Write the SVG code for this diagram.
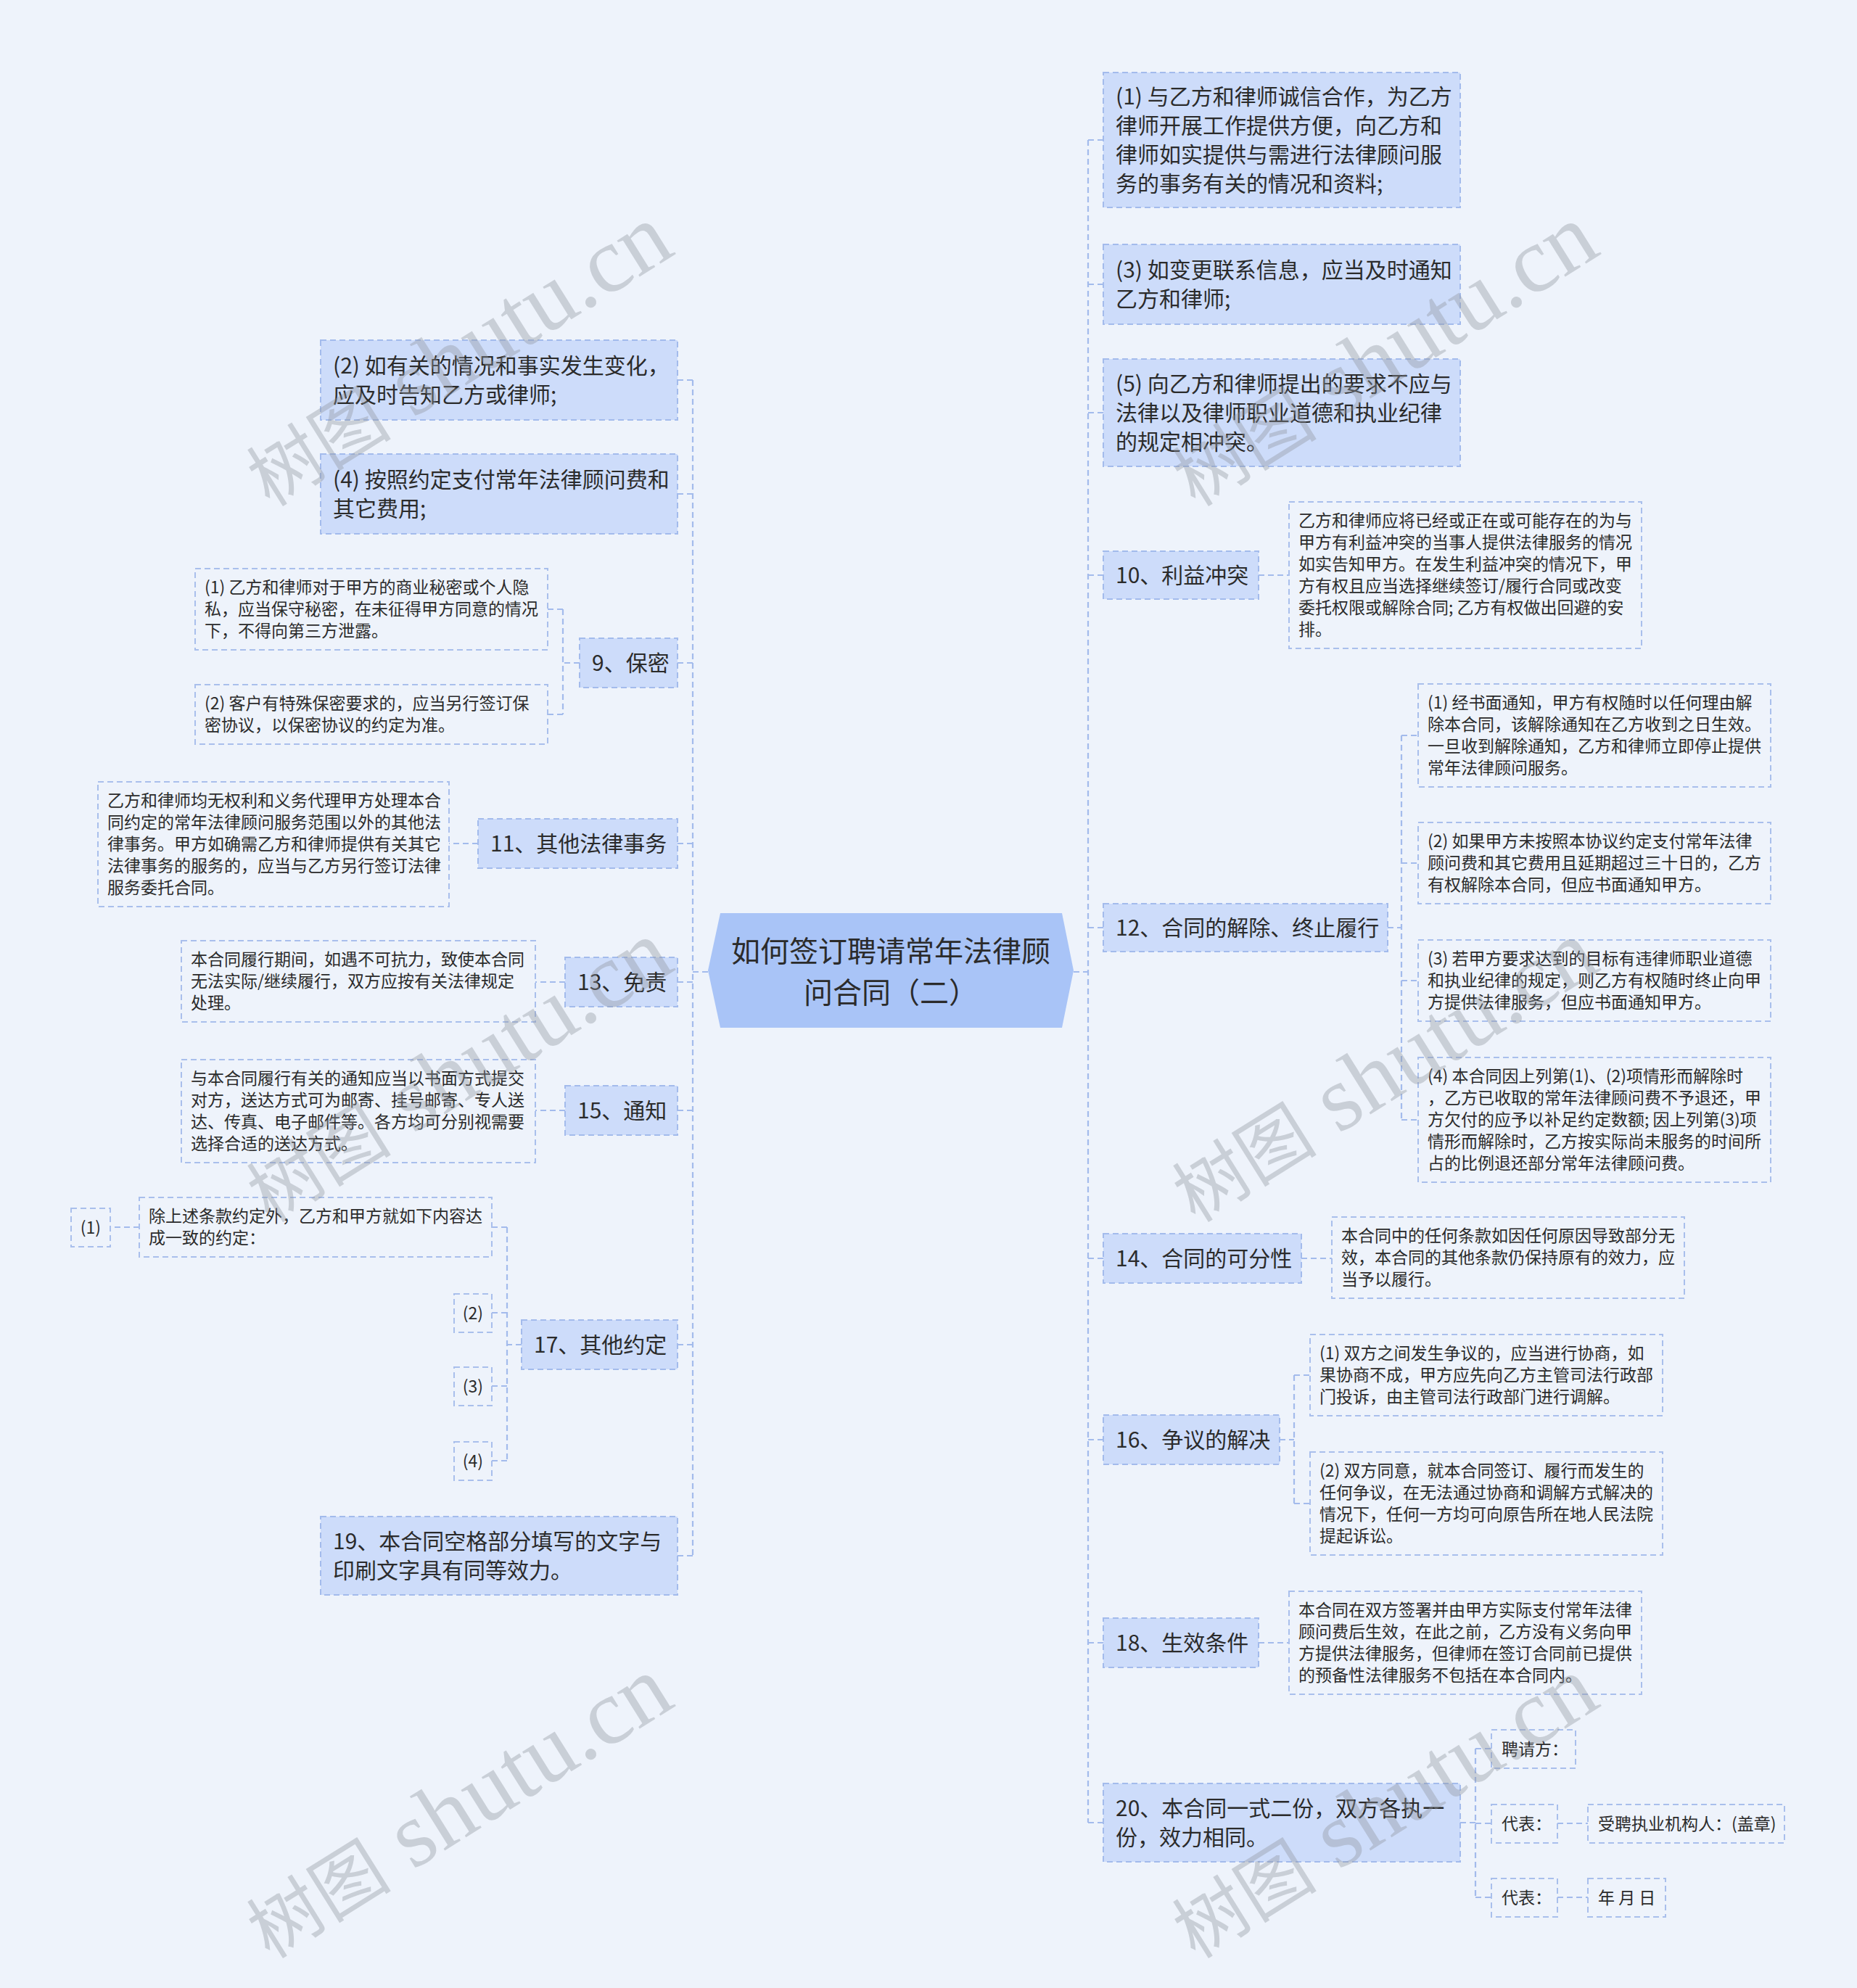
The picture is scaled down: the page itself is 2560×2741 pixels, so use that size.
<svg xmlns="http://www.w3.org/2000/svg" width="2560" height="2741" viewBox="0 0 2560 2741">
<style>
.bg{fill:#eef3fb}
.root{fill:#a9c4f7}
.mn{fill:#cddcfa;stroke:#a3bbec;stroke-width:2;stroke-dasharray:8 5}
.dt{fill:none;stroke:#a9bfec;stroke-width:2;stroke-dasharray:8 5}
.cn{fill:none;stroke:#a3bbec;stroke-width:2.2;stroke-dasharray:8 5}
text{font-family:"Noto Sans CJK SC","Noto Sans",sans-serif;fill:#2b2b2b}
.t40{font-size:40px}
.t30{font-size:30px}
.t23{font-size:23px}
.wm{font-family:"Liberation Serif","Noto Sans CJK SC",serif;fill:#8f959e;opacity:0.38}
</style>
<rect class="bg" x="0" y="0" width="2560" height="2741"/>

<g id="connectors">
<path class="cn" d="M1480 1340 H1500 M1500 193 V2513 M1500 193 H1521 M1500 392 H1521 M1500 569 H1521 M1500 793 H1521 M1500 1279 H1521 M1500 1735 H1521 M1500 1985 H1521 M1500 2265 H1521 M1500 2513 H1521"/>
<path class="cn" d="M976 1340 H955 M955 524 V2145 M955 524 H934 M955 681 H934 M955 914 H934 M955 1163 H934 M955 1354 H934 M955 1531 H934 M955 1854 H934 M955 2145 H934"/>
<path class="cn" d="M799 914 H776 M776 840 V985 M776 840 H755 M776 985 H755"/>
<path class="cn" d="M659 1163 H619 M779 1354 H738 M779 1531 H738"/>
<path class="cn" d="M719 1854 H699 M699 1692 V2014 M699 1692 H678 M699 1810 H678 M699 1911 H678 M699 2014 H678 M192 1692 H152"/>
<path class="cn" d="M1735 793 H1777"/>
<path class="cn" d="M1913 1279 H1932 M1932 1014 V1544 M1932 1014 H1955 M1932 1190 H1955 M1932 1352 H1955 M1932 1544 H1955"/>
<path class="cn" d="M1794 1735 H1836"/>
<path class="cn" d="M1764 1985 H1784 M1784 1896 V2073 M1784 1896 H1806 M1784 2073 H1806"/>
<path class="cn" d="M1735 2265 H1777"/>
<path class="cn" d="M2013 2513 H2034 M2034 2411 V2616 M2034 2411 H2056 M2034 2514 H2056 M2034 2616 H2056 M2147 2514 H2189 M2147 2616 H2189"/>
</g>

<g id="root">
<polygon class="root" points="976,1338 993,1259 1464,1259 1480,1338 1464,1417 993,1417"/>
<text class="t40" x="1228" y="1326" text-anchor="middle">如何签订聘请常年法律顾</text>
<text class="t40" x="1228" y="1383" text-anchor="middle">问合同（二）</text>
</g>

<!-- Right side -->
<g id="r1">
<rect class="mn" x="1521" y="100" width="492" height="186"/>
<text class="t30" x="1538" y="144">(1) 与乙方和律师诚信合作，为乙方</text>
<text class="t30" x="1538" y="184">律师开展工作提供方便，向乙方和</text>
<text class="t30" x="1538" y="224">律师如实提供与需进行法律顾问服</text>
<text class="t30" x="1538" y="264">务的事务有关的情况和资料;</text>
</g>
<g id="r3">
<rect class="mn" x="1521" y="337" width="492" height="110"/>
<text class="t30" x="1538" y="383">(3) 如变更联系信息，应当及时通知</text>
<text class="t30" x="1538" y="423">乙方和律师;</text>
</g>
<g id="r5">
<rect class="mn" x="1521" y="495" width="492" height="148"/>
<text class="t30" x="1538" y="540">(5) 向乙方和律师提出的要求不应与</text>
<text class="t30" x="1538" y="580">法律以及律师职业道德和执业纪律</text>
<text class="t30" x="1538" y="620">的规定相冲突。</text>
</g>
<g id="n10">
<rect class="mn" x="1521" y="760" width="214" height="66"/>
<text class="t30" x="1538" y="804">10、利益冲突</text>
</g>
<g id="n10d">
<rect class="dt" x="1777" y="692" width="486" height="202"/>
<text class="t23" x="1790" y="726">乙方和律师应将已经或正在或可能存在的为与</text>
<text class="t23" x="1790" y="756">甲方有利益冲突的当事人提供法律服务的情况</text>
<text class="t23" x="1790" y="786">如实告知甲方。在发生利益冲突的情况下，甲</text>
<text class="t23" x="1790" y="816">方有权且应当选择继续签订/履行合同或改变</text>
<text class="t23" x="1790" y="846">委托权限或解除合同; 乙方有权做出回避的安</text>
<text class="t23" x="1790" y="876">排。</text>
</g>
<g id="n12">
<rect class="mn" x="1521" y="1246" width="392" height="66"/>
<text class="t30" x="1538" y="1290">12、合同的解除、终止履行</text>
</g>
<g id="n12a">
<rect class="dt" x="1955" y="943" width="486" height="142"/>
<text class="t23" x="1968" y="977">(1) 经书面通知，甲方有权随时以任何理由解</text>
<text class="t23" x="1968" y="1007">除本合同，该解除通知在乙方收到之日生效。</text>
<text class="t23" x="1968" y="1037">一旦收到解除通知，乙方和律师立即停止提供</text>
<text class="t23" x="1968" y="1067">常年法律顾问服务。</text>
</g>
<g id="n12b">
<rect class="dt" x="1955" y="1134" width="486" height="112"/>
<text class="t23" x="1968" y="1168">(2) 如果甲方未按照本协议约定支付常年法律</text>
<text class="t23" x="1968" y="1198">顾问费和其它费用且延期超过三十日的，乙方</text>
<text class="t23" x="1968" y="1228">有权解除本合同，但应书面通知甲方。</text>
</g>
<g id="n12c">
<rect class="dt" x="1955" y="1296" width="486" height="112"/>
<text class="t23" x="1968" y="1330">(3) 若甲方要求达到的目标有违律师职业道德</text>
<text class="t23" x="1968" y="1360">和执业纪律的规定，则乙方有权随时终止向甲</text>
<text class="t23" x="1968" y="1390">方提供法律服务，但应书面通知甲方。</text>
</g>
<g id="n12d">
<rect class="dt" x="1955" y="1458" width="486" height="172"/>
<text class="t23" x="1968" y="1492">(4) 本合同因上列第(1)、(2)项情形而解除时</text>
<text class="t23" x="1968" y="1522">，乙方已收取的常年法律顾问费不予退还，甲</text>
<text class="t23" x="1968" y="1552">方欠付的应予以补足约定数额; 因上列第(3)项</text>
<text class="t23" x="1968" y="1582">情形而解除时，乙方按实际尚未服务的时间所</text>
<text class="t23" x="1968" y="1612">占的比例退还部分常年法律顾问费。</text>
</g>
<g id="n14">
<rect class="mn" x="1521" y="1701" width="273" height="68"/>
<text class="t30" x="1538" y="1746">14、合同的可分性</text>
</g>
<g id="n14d">
<rect class="dt" x="1836" y="1678" width="486" height="112"/>
<text class="t23" x="1849" y="1712">本合同中的任何条款如因任何原因导致部分无</text>
<text class="t23" x="1849" y="1742">效，本合同的其他条款仍保持原有的效力，应</text>
<text class="t23" x="1849" y="1772">当予以履行。</text>
</g>
<g id="n16">
<rect class="mn" x="1521" y="1951" width="243" height="68"/>
<text class="t30" x="1538" y="1996">16、争议的解决</text>
</g>
<g id="n16a">
<rect class="dt" x="1806" y="1840" width="486" height="112"/>
<text class="t23" x="1819" y="1874">(1) 双方之间发生争议的，应当进行协商，如</text>
<text class="t23" x="1819" y="1904">果协商不成，甲方应先向乙方主管司法行政部</text>
<text class="t23" x="1819" y="1934">门投诉，由主管司法行政部门进行调解。</text>
</g>
<g id="n16b">
<rect class="dt" x="1806" y="2002" width="486" height="142"/>
<text class="t23" x="1819" y="2036">(2) 双方同意，就本合同签订、履行而发生的</text>
<text class="t23" x="1819" y="2066">任何争议，在无法通过协商和调解方式解决的</text>
<text class="t23" x="1819" y="2096">情况下，任何一方均可向原告所在地人民法院</text>
<text class="t23" x="1819" y="2126">提起诉讼。</text>
</g>
<g id="n18">
<rect class="mn" x="1521" y="2231" width="214" height="68"/>
<text class="t30" x="1538" y="2276">18、生效条件</text>
</g>
<g id="n18d">
<rect class="dt" x="1777" y="2194" width="486" height="142"/>
<text class="t23" x="1790" y="2228">本合同在双方签署并由甲方实际支付常年法律</text>
<text class="t23" x="1790" y="2258">顾问费后生效，在此之前，乙方没有义务向甲</text>
<text class="t23" x="1790" y="2288">方提供法律服务，但律师在签订合同前已提供</text>
<text class="t23" x="1790" y="2318">的预备性法律服务不包括在本合同内。</text>
</g>
<g id="n20">
<rect class="mn" x="1521" y="2459" width="492" height="108"/>
<text class="t30" x="1538" y="2504">20、本合同一式二份，双方各执一</text>
<text class="t30" x="1538" y="2544">份，效力相同。</text>
</g>
<g id="n20a">
<rect class="dt" x="2056" y="2385" width="116" height="53"/>
<text class="t23" x="2070" y="2420">聘请方：</text>
</g>
<g id="n20b">
<rect class="dt" x="2056" y="2488" width="91" height="53"/>
<text class="t23" x="2070" y="2523">代表：</text>
</g>
<g id="n20b1">
<rect class="dt" x="2189" y="2488" width="271" height="53"/>
<text class="t23" x="2203" y="2523">受聘执业机构人：(盖章)</text>
</g>
<g id="n20c">
<rect class="dt" x="2056" y="2590" width="91" height="53"/>
<text class="t23" x="2070" y="2625">代表：</text>
</g>
<g id="n20c1">
<rect class="dt" x="2189" y="2590" width="107" height="53"/>
<text class="t23" x="2203" y="2625">年 月 日</text>
</g>

<!-- Left side -->
<g id="l2">
<rect class="mn" x="442" y="469" width="492" height="110"/>
<text class="t30" x="459" y="515">(2) 如有关的情况和事实发生变化，</text>
<text class="t30" x="459" y="555">应及时告知乙方或律师;</text>
</g>
<g id="l4">
<rect class="mn" x="442" y="626" width="492" height="110"/>
<text class="t30" x="459" y="672">(4) 按照约定支付常年法律顾问费和</text>
<text class="t30" x="459" y="712">其它费用;</text>
</g>
<g id="n9">
<rect class="mn" x="799" y="880" width="135" height="68"/>
<text class="t30" x="816" y="925">9、保密</text>
</g>
<g id="n9a">
<rect class="dt" x="269" y="784" width="486" height="112"/>
<text class="t23" x="282" y="818">(1) 乙方和律师对于甲方的商业秘密或个人隐</text>
<text class="t23" x="282" y="848">私，应当保守秘密，在未征得甲方同意的情况</text>
<text class="t23" x="282" y="878">下，不得向第三方泄露。</text>
</g>
<g id="n9b">
<rect class="dt" x="269" y="944" width="486" height="82"/>
<text class="t23" x="282" y="978">(2) 客户有特殊保密要求的，应当另行签订保</text>
<text class="t23" x="282" y="1008">密协议，以保密协议的约定为准。</text>
</g>
<g id="n11">
<rect class="mn" x="659" y="1129" width="275" height="68"/>
<text class="t30" x="676" y="1174">11、其他法律事务</text>
</g>
<g id="n11d">
<rect class="dt" x="135" y="1078" width="484" height="172"/>
<text class="t23" x="148" y="1112">乙方和律师均无权利和义务代理甲方处理本合</text>
<text class="t23" x="148" y="1142">同约定的常年法律顾问服务范围以外的其他法</text>
<text class="t23" x="148" y="1172">律事务。甲方如确需乙方和律师提供有关其它</text>
<text class="t23" x="148" y="1202">法律事务的服务的，应当与乙方另行签订法律</text>
<text class="t23" x="148" y="1232">服务委托合同。</text>
</g>
<g id="n13">
<rect class="mn" x="779" y="1320" width="155" height="68"/>
<text class="t30" x="796" y="1365">13、免责</text>
</g>
<g id="n13d">
<rect class="dt" x="250" y="1297" width="488" height="112"/>
<text class="t23" x="263" y="1331">本合同履行期间，如遇不可抗力，致使本合同</text>
<text class="t23" x="263" y="1361">无法实际/继续履行，双方应按有关法律规定</text>
<text class="t23" x="263" y="1391">处理。</text>
</g>
<g id="n15">
<rect class="mn" x="779" y="1497" width="155" height="68"/>
<text class="t30" x="796" y="1542">15、通知</text>
</g>
<g id="n15d">
<rect class="dt" x="250" y="1461" width="488" height="142"/>
<text class="t23" x="263" y="1495">与本合同履行有关的通知应当以书面方式提交</text>
<text class="t23" x="263" y="1525">对方，送达方式可为邮寄、挂号邮寄、专人送</text>
<text class="t23" x="263" y="1555">达、传真、电子邮件等。各方均可分别视需要</text>
<text class="t23" x="263" y="1585">选择合适的送达方式。</text>
</g>
<g id="n17">
<rect class="mn" x="719" y="1820" width="215" height="68"/>
<text class="t30" x="736" y="1865">17、其他约定</text>
</g>
<g id="n17a">
<rect class="dt" x="192" y="1651" width="486" height="82"/>
<text class="t23" x="205" y="1685">除上述条款约定外，乙方和甲方就如下内容达</text>
<text class="t23" x="205" y="1715">成一致的约定：</text>
</g>
<g id="n17a1">
<rect class="dt" x="98" y="1666" width="54" height="53"/>
<text class="t23" x="125" y="1701" text-anchor="middle">(1)</text>
</g>
<g id="n17b">
<rect class="dt" x="626" y="1784" width="52" height="53"/>
<text class="t23" x="652" y="1819" text-anchor="middle">(2)</text>
</g>
<g id="n17c">
<rect class="dt" x="626" y="1885" width="52" height="53"/>
<text class="t23" x="652" y="1920" text-anchor="middle">(3)</text>
</g>
<g id="n17d">
<rect class="dt" x="626" y="1988" width="52" height="53"/>
<text class="t23" x="652" y="2023" text-anchor="middle">(4)</text>
</g>
<g id="n19">
<rect class="mn" x="442" y="2091" width="492" height="108"/>
<text class="t30" x="459" y="2136">19、本合同空格部分填写的文字与</text>
<text class="t30" x="459" y="2176">印刷文字具有同等效力。</text>
</g>

<g id="watermarks">
<text class="wm" transform="translate(372 700) rotate(-32)"><tspan font-size="100">树图</tspan><tspan font-size="128"> shutu.cn</tspan></text>
<text class="wm" transform="translate(1648 700) rotate(-32)"><tspan font-size="100">树图</tspan><tspan font-size="128"> shutu.cn</tspan></text>
<text class="wm" transform="translate(372 1687) rotate(-32)"><tspan font-size="100">树图</tspan><tspan font-size="128"> shutu.cn</tspan></text>
<text class="wm" transform="translate(1648 1687) rotate(-32)"><tspan font-size="100">树图</tspan><tspan font-size="128"> shutu.cn</tspan></text>
<text class="wm" transform="translate(372 2702) rotate(-32)"><tspan font-size="100">树图</tspan><tspan font-size="128"> shutu.cn</tspan></text>
<text class="wm" transform="translate(1648 2702) rotate(-32)"><tspan font-size="100">树图</tspan><tspan font-size="128"> shutu.cn</tspan></text>
</g>
</svg>
